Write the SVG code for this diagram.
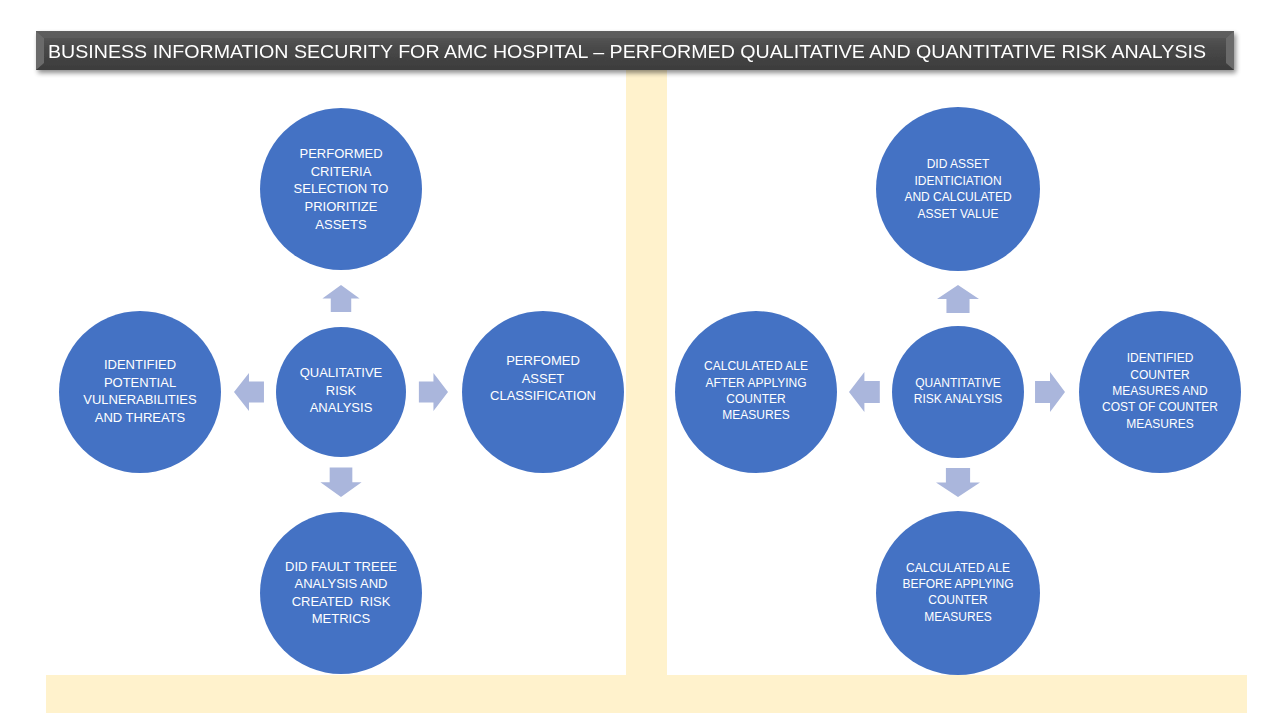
<svg xmlns="http://www.w3.org/2000/svg" width="1280" height="720" viewBox="0 0 1280 720">
<defs>
<linearGradient id="tg" x1="0" y1="0" x2="0" y2="1">
<stop offset="0" stop-color="#5a5a5a"/>
<stop offset="0.5" stop-color="#474747"/>
<stop offset="1" stop-color="#3c3c3c"/>
</linearGradient>
<filter id="sh" x="-5%" y="-30%" width="110%" height="180%">
<feGaussianBlur in="SourceAlpha" stdDeviation="2.5"/>
<feOffset dx="2" dy="3" result="b"/>
<feComponentTransfer><feFuncA type="linear" slope="0.45"/></feComponentTransfer>
<feMerge><feMergeNode/><feMergeNode in="SourceGraphic"/></feMerge>
</filter>
<path id="arUp" d="M-20,14 L0,0 L20,14 L11,14 L11,28 L-11,28 L-11,14 Z"/>
</defs>
<style>
.node{fill:#4472C4}
.arr{fill:#AAB6DC}
.t{font-family:"Liberation Sans","Open Sans",Arial,sans-serif;font-size:13px;fill:#ffffff;text-anchor:middle}
.t2{font-family:"Liberation Sans","Open Sans",Arial,sans-serif;font-size:12px;fill:#ffffff;text-anchor:middle}
.bar{fill:#FFF2CC}
</style>
<rect width="1280" height="720" fill="#ffffff"/>
<g id="frame">
<rect class="bar" x="626" y="69" width="41" height="610"/>
<rect class="bar" x="46" y="675" width="1201" height="38"/>
</g>
<g id="title" filter="url(#sh)">
<rect x="36" y="31" width="1198" height="39" fill="url(#tg)"/>
<path d="M36,31 L44,38 L44,63 L36,70 Z" fill="#6a6a6a"/>
<path d="M1234,31 L1226,38 L1226,63 L1234,70 Z" fill="#6a6a6a"/>
<path d="M36,31 L1234,31 L1226,38 L44,38 Z" fill="#606060" opacity="0.6"/>
<text x="48" y="58" font-family="'Liberation Sans','Open Sans',Arial,sans-serif" font-size="19" fill="#ffffff" textLength="1158" lengthAdjust="spacingAndGlyphs">BUSINESS INFORMATION SECURITY FOR AMC HOSPITAL – PERFORMED QUALITATIVE AND QUANTITATIVE RISK ANALYSIS</text>
</g>
<g id="connectors">
<use href="#arUp" class="arr" transform="translate(341,285) scale(0.93,0.96)"/>
<use href="#arUp" class="arr" transform="translate(341,497) scale(1,-1) scale(1.03,1.05)"/>
<use href="#arUp" class="arr" transform="translate(234,392) rotate(-90) scale(0.95,1.07)"/>
<use href="#arUp" class="arr" transform="translate(448,392) rotate(90) scale(0.95,1.04)"/>
<use href="#arUp" class="arr" transform="translate(958,285) scale(1.05,1)"/>
<use href="#arUp" class="arr" transform="translate(958,497) scale(1,-1) scale(1.1,1.04)"/>
<use href="#arUp" class="arr" transform="translate(849,392) rotate(-90) scale(1,1.1)"/>
<use href="#arUp" class="arr" transform="translate(1065,392) rotate(90) scale(1,1.07)"/>
</g>
<g id="n-criteria">
<circle class="node" cx="341" cy="189" r="81"/>
<text class="t" x="341"><tspan x="341" y="158">PERFORMED</tspan><tspan x="341" y="176">CRITERIA</tspan><tspan x="341" y="193">SELECTION TO</tspan><tspan x="341" y="211">PRIORITIZE</tspan><tspan x="341" y="229">ASSETS</tspan></text>
</g>
<g id="n-vuln">
<circle class="node" cx="140" cy="392" r="81"/>
<text class="t"><tspan x="140" y="369">IDENTIFIED</tspan><tspan x="140" y="387">POTENTIAL</tspan><tspan x="140" y="404">VULNERABILITIES</tspan><tspan x="140" y="422">AND THREATS</tspan></text>
</g>
<g id="n-qual">
<circle class="node" cx="341" cy="392" r="65"/>
<text class="t"><tspan x="341" y="377">QUALITATIVE</tspan><tspan x="341" y="395">RISK</tspan><tspan x="341" y="412">ANALYSIS</tspan></text>
</g>
<g id="n-class">
<circle class="node" cx="543" cy="392" r="81"/>
<text class="t"><tspan x="543" y="365">PERFOMED</tspan><tspan x="543" y="383">ASSET</tspan><tspan x="543" y="400">CLASSIFICATION</tspan></text>
</g>
<g id="n-fault">
<circle class="node" cx="341" cy="593" r="81"/>
<text class="t"><tspan x="341" y="571">DID FAULT TREEE</tspan><tspan x="341" y="588">ANALYSIS AND</tspan><tspan x="341" y="606" xml:space="preserve">CREATED  RISK</tspan><tspan x="341" y="623">METRICS</tspan></text>
</g>
<g id="n-assetval">
<circle class="node" cx="958" cy="189" r="82"/>
<text class="t2"><tspan x="958" y="168">DID ASSET</tspan><tspan x="958" y="185">IDENTICIATION</tspan><tspan x="958" y="201">AND CALCULATED</tspan><tspan x="958" y="218">ASSET VALUE</tspan></text>
</g>
<g id="n-aleafter">
<circle class="node" cx="756" cy="392" r="81"/>
<text class="t2"><tspan x="756" y="370">CALCULATED ALE</tspan><tspan x="756" y="387">AFTER APPLYING</tspan><tspan x="756" y="403">COUNTER</tspan><tspan x="756" y="419">MEASURES</tspan></text>
</g>
<g id="n-quant">
<circle class="node" cx="958" cy="392" r="66"/>
<text class="t2"><tspan x="958" y="387">QUANTITATIVE</tspan><tspan x="958" y="403">RISK ANALYSIS</tspan></text>
</g>
<g id="n-counter">
<circle class="node" cx="1160" cy="392" r="81"/>
<text class="t2"><tspan x="1160" y="362">IDENTIFIED</tspan><tspan x="1160" y="379">COUNTER</tspan><tspan x="1160" y="395">MEASURES AND</tspan><tspan x="1160" y="411">COST OF COUNTER</tspan><tspan x="1160" y="428">MEASURES</tspan></text>
</g>
<g id="n-alebefore">
<circle class="node" cx="958" cy="593" r="82"/>
<text class="t2"><tspan x="958" y="572">CALCULATED ALE</tspan><tspan x="958" y="588">BEFORE APPLYING</tspan><tspan x="958" y="604">COUNTER</tspan><tspan x="958" y="621">MEASURES</tspan></text>
</g>
</svg>
